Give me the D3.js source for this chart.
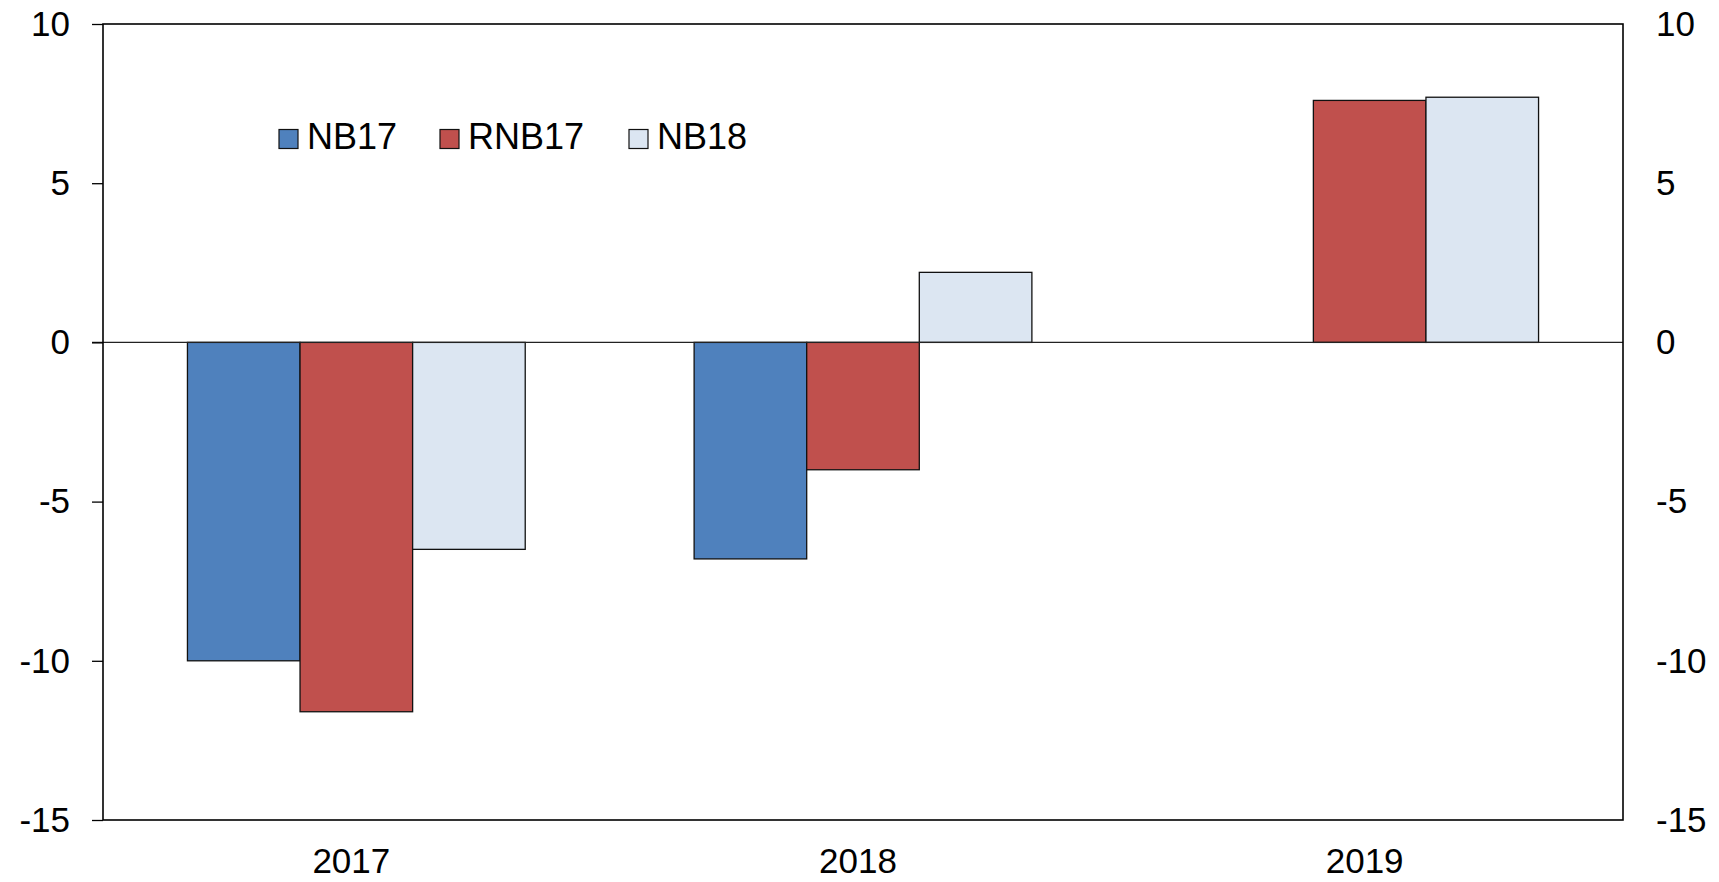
<!DOCTYPE html>
<html>
<head>
<meta charset="utf-8">
<script src="https://cdn.jsdelivr.net/npm/d3@7"></script>
<style>
  html, body { margin: 0; padding: 0; background: #fff; }
  svg { display: block; font-family: "Liberation Sans", Arial, sans-serif; }
</style>
</head>
<body>
<svg id="chart" width="1719" height="882"></svg>
<script>
const categories = ["2017", "2018", "2019"];
const seriesNames = ["NB17", "RNB17", "NB18"];
const NB17 = [-10.0, -6.8, null];
const RNB17 = [-11.6, -4.0, 7.6];
const NB18 = [-6.5, 2.2, 7.7];
const seriesValues = [NB17, RNB17, NB18];
const seriesColors = ["#4F81BD", "#C0504D", "#DCE6F2"];
const yTicks = [10, 5, 0, -5, -10, -15];

const svg = d3.select("#chart");
const m = { left: 103, right: 1623, top: 24, bottom: 820 };

const x0 = d3.scaleBand().domain(categories).range([m.left, m.right]).padding(0);
const x1 = d3.scaleBand().domain(seriesNames).range([0, x0.bandwidth()])
  .paddingInner(0).paddingOuter(0.75);
const y = d3.scaleLinear().domain([-15, 10]).range([m.bottom, m.top]);
const fmt = d => String(d);

// Bars
const data = [];
categories.forEach((c, i) => {
  seriesNames.forEach((s, j) => {
    const v = seriesValues[j][i];
    if (v !== null && v !== undefined) data.push({ c, s, v, color: seriesColors[j] });
  });
});

svg.append("g").selectAll("rect").data(data).join("rect")
  .attr("x", d => x0(d.c) + x1(d.s))
  .attr("y", d => y(Math.max(0, d.v)))
  .attr("width", x1.bandwidth())
  .attr("height", d => Math.abs(y(d.v) - y(0)))
  .attr("fill", d => d.color)
  .attr("stroke", "#111")
  .attr("stroke-width", 1.3);

// Zero line
svg.append("line")
  .attr("x1", m.left - 11).attr("x2", m.right)
  .attr("y1", y(0)).attr("y2", y(0))
  .attr("stroke", "#222").attr("stroke-width", 1.2);

// Left axis
const leftAxis = svg.append("g")
  .attr("transform", `translate(${m.left},0)`)
  .call(d3.axisLeft(y).tickValues(yTicks).tickSize(11).tickPadding(22).tickFormat(fmt));
leftAxis.select(".domain").remove();
leftAxis.selectAll(".tick line").attr("stroke", "#000").attr("stroke-width", 1.3);
leftAxis.selectAll("text").attr("font-size", 35).attr("fill", "#000")
  .attr("font-family", "Liberation Sans, Arial, sans-serif");

// Right axis
const rightAxis = svg.append("g")
  .attr("transform", `translate(${m.right},0)`)
  .call(d3.axisRight(y).tickValues(yTicks).tickSize(0).tickPadding(33).tickFormat(fmt));
rightAxis.select(".domain").remove();
rightAxis.selectAll("text").attr("font-size", 35).attr("fill", "#000")
  .attr("font-family", "Liberation Sans, Arial, sans-serif");

// Plot border
svg.append("rect")
  .attr("x", m.left).attr("y", m.top)
  .attr("width", m.right - m.left).attr("height", m.bottom - m.top)
  .attr("fill", "none").attr("stroke", "#000").attr("stroke-width", 1.6);

// Category labels
svg.append("g").selectAll("text").data(categories).join("text")
  .attr("x", d => x0(d) + x0.bandwidth() / 2 - 5)
  .attr("y", 873)
  .attr("text-anchor", "middle")
  .attr("font-size", 35)
  .attr("fill", "#000")
  .text(d => d);

// Legend
const legendX = [279, 440, 629];
const lg = svg.append("g");
seriesNames.forEach((s, i) => {
  lg.append("rect")
    .attr("x", legendX[i]).attr("y", 129.5)
    .attr("width", 19).attr("height", 19)
    .attr("fill", seriesColors[i]).attr("stroke", "#111").attr("stroke-width", 1.2);
  lg.append("text")
    .attr("x", legendX[i] + 28).attr("y", 149)
    .attr("font-size", 36).attr("fill", "#000")
    .text(s);
});
</script>
</body>
</html>
